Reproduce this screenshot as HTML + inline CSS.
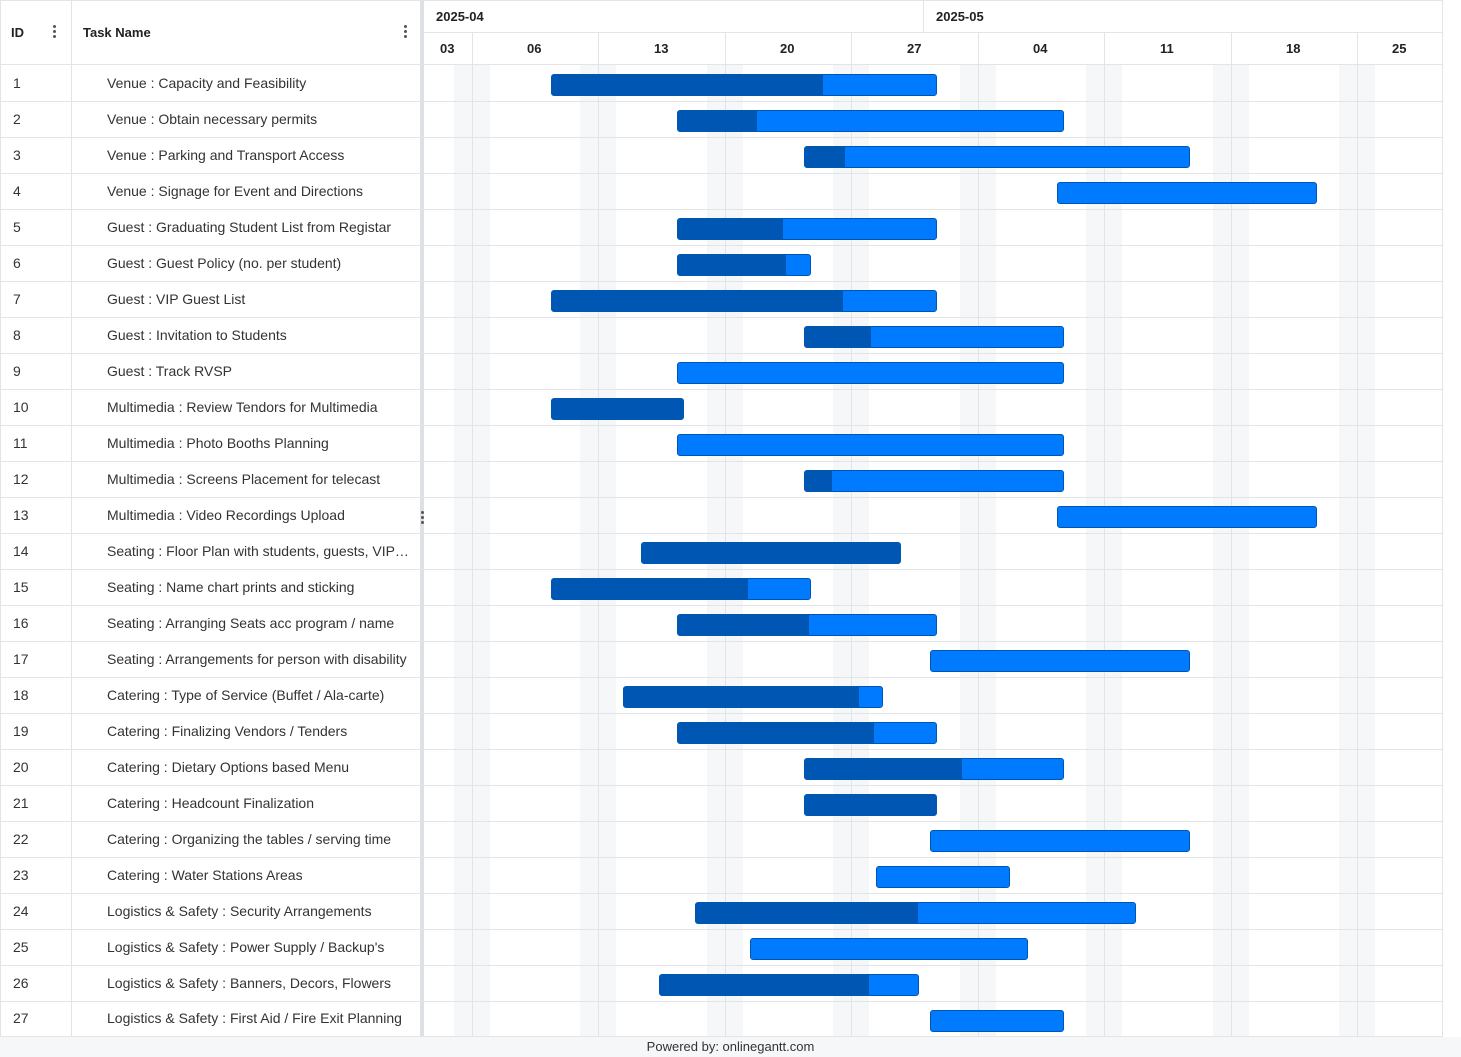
<!DOCTYPE html>
<html><head><meta charset="utf-8"><style>
*{box-sizing:border-box;margin:0;padding:0}
body{width:1461px;height:1057px;position:relative;background:#fff;font-family:"Liberation Sans",Arial,sans-serif;color:#333;overflow:hidden}
.a{position:absolute}
.hl{position:absolute;left:0;width:1442px;height:1px;background:#e2e4e8}
.vl{position:absolute;width:1px;background:#e2e4e8}
.band{position:absolute;top:65px;height:972px;width:36px;background:#f6f7f9}
.id{position:absolute;left:13px;font-size:14px;line-height:36px}
.tn{position:absolute;left:107px;font-size:14px;line-height:36px;white-space:nowrap}
.hd{position:absolute;font-size:13px;font-weight:bold;color:#222}
.bar{position:absolute;height:22px;background:#007bff;border:1px solid #0057b3;border-radius:3px;overflow:hidden}
.bar i{position:absolute;left:0;top:0;bottom:0;background:#0057b3}
.dots{position:absolute;width:3px}
.dots b{display:block;width:3px;height:3px;border-radius:50%;background:#555;margin-bottom:2px}
</style></head><body>
<!-- weekend bands -->
<div class="band" style="left:454px"></div>
<div class="band" style="left:580px"></div>
<div class="band" style="left:707px"></div>
<div class="band" style="left:833px"></div>
<div class="band" style="left:960px"></div>
<div class="band" style="left:1086px"></div>
<div class="band" style="left:1213px"></div>
<div class="band" style="left:1339px"></div>
<!-- vertical lines -->
<div class="vl" style="left:0;top:0;height:1037px"></div>
<div class="vl" style="left:71px;top:0;height:1037px"></div>
<div class="vl" style="left:923px;top:0;height:32px"></div>
<div class="vl" style="left:472px;top:32px;height:1005px"></div>
<div class="vl" style="left:598px;top:32px;height:1005px"></div>
<div class="vl" style="left:725px;top:32px;height:1005px"></div>
<div class="vl" style="left:851px;top:32px;height:1005px"></div>
<div class="vl" style="left:978px;top:32px;height:1005px"></div>
<div class="vl" style="left:1104px;top:32px;height:1005px"></div>
<div class="vl" style="left:1231px;top:32px;height:1005px"></div>
<div class="vl" style="left:1357px;top:32px;height:1005px"></div>
<div class="vl" style="left:1442px;top:0;height:1037px"></div>
<div class="a" style="left:420px;top:0;width:4px;height:1037px;background:#dde0e5"></div>
<div class="dots" style="left:421px;top:511px"><b></b><b></b><b></b></div>
<!-- horizontal lines -->
<div class="hl" style="top:0"></div>
<div class="hl" style="top:32px;left:424px;width:1018px"></div>
<div class="hl" style="top:64px"></div>
<div class="hl" style="top:101px"></div><div class="hl" style="top:137px"></div><div class="hl" style="top:173px"></div><div class="hl" style="top:209px"></div><div class="hl" style="top:245px"></div><div class="hl" style="top:281px"></div><div class="hl" style="top:317px"></div><div class="hl" style="top:353px"></div><div class="hl" style="top:389px"></div><div class="hl" style="top:425px"></div><div class="hl" style="top:461px"></div><div class="hl" style="top:497px"></div><div class="hl" style="top:533px"></div><div class="hl" style="top:569px"></div><div class="hl" style="top:605px"></div><div class="hl" style="top:641px"></div><div class="hl" style="top:677px"></div><div class="hl" style="top:713px"></div><div class="hl" style="top:749px"></div><div class="hl" style="top:785px"></div><div class="hl" style="top:821px"></div><div class="hl" style="top:857px"></div><div class="hl" style="top:893px"></div><div class="hl" style="top:929px"></div><div class="hl" style="top:965px"></div><div class="hl" style="top:1001px"></div><div class="hl" style="top:1036px"></div>
<!-- headers -->
<div class="hd" style="left:11px;top:25px">ID</div>
<div class="dots" style="left:53px;top:25px"><b></b><b></b><b></b></div>
<div class="hd" style="left:83px;top:25px">Task Name</div>
<div class="dots" style="left:404px;top:25px"><b></b><b></b><b></b></div>
<div class="hd" style="left:436px;top:9px">2025-04</div>
<div class="hd" style="left:936px;top:9px">2025-05</div>
<div class="hd" style="left:440px;top:41px">03</div>
<div class="hd" style="left:527px;top:41px">06</div>
<div class="hd" style="left:654px;top:41px">13</div>
<div class="hd" style="left:780px;top:41px">20</div>
<div class="hd" style="left:907px;top:41px">27</div>
<div class="hd" style="left:1033px;top:41px">04</div>
<div class="hd" style="left:1160px;top:41px">11</div>
<div class="hd" style="left:1286px;top:41px">18</div>
<div class="hd" style="left:1392px;top:41px">25</div>
<!-- rows -->
<div class="id" style="top:65px">1</div><div class="tn" style="top:65px">Venue : Capacity and Feasibility</div>
<div class="id" style="top:101px">2</div><div class="tn" style="top:101px">Venue : Obtain necessary permits</div>
<div class="id" style="top:137px">3</div><div class="tn" style="top:137px">Venue : Parking and Transport Access</div>
<div class="id" style="top:173px">4</div><div class="tn" style="top:173px">Venue : Signage for Event and Directions</div>
<div class="id" style="top:209px">5</div><div class="tn" style="top:209px">Guest : Graduating Student List from Registar</div>
<div class="id" style="top:245px">6</div><div class="tn" style="top:245px">Guest : Guest Policy (no. per student)</div>
<div class="id" style="top:281px">7</div><div class="tn" style="top:281px">Guest : VIP Guest List</div>
<div class="id" style="top:317px">8</div><div class="tn" style="top:317px">Guest : Invitation to Students</div>
<div class="id" style="top:353px">9</div><div class="tn" style="top:353px">Guest : Track RVSP</div>
<div class="id" style="top:389px">10</div><div class="tn" style="top:389px">Multimedia : Review Tendors for Multimedia</div>
<div class="id" style="top:425px">11</div><div class="tn" style="top:425px">Multimedia : Photo Booths Planning</div>
<div class="id" style="top:461px">12</div><div class="tn" style="top:461px">Multimedia : Screens Placement for telecast</div>
<div class="id" style="top:497px">13</div><div class="tn" style="top:497px">Multimedia : Video Recordings Upload</div>
<div class="id" style="top:533px">14</div><div class="tn" style="top:533px">Seating : Floor Plan with students, guests, VIP…</div>
<div class="id" style="top:569px">15</div><div class="tn" style="top:569px">Seating : Name chart prints and sticking</div>
<div class="id" style="top:605px">16</div><div class="tn" style="top:605px">Seating : Arranging Seats acc program / name</div>
<div class="id" style="top:641px">17</div><div class="tn" style="top:641px">Seating : Arrangements for person with disability</div>
<div class="id" style="top:677px">18</div><div class="tn" style="top:677px">Catering : Type of Service (Buffet / Ala-carte)</div>
<div class="id" style="top:713px">19</div><div class="tn" style="top:713px">Catering : Finalizing Vendors / Tenders</div>
<div class="id" style="top:749px">20</div><div class="tn" style="top:749px">Catering : Dietary Options based Menu</div>
<div class="id" style="top:785px">21</div><div class="tn" style="top:785px">Catering : Headcount Finalization</div>
<div class="id" style="top:821px">22</div><div class="tn" style="top:821px">Catering : Organizing the tables / serving time</div>
<div class="id" style="top:857px">23</div><div class="tn" style="top:857px">Catering : Water Stations Areas</div>
<div class="id" style="top:893px">24</div><div class="tn" style="top:893px">Logistics &amp; Safety : Security Arrangements</div>
<div class="id" style="top:929px">25</div><div class="tn" style="top:929px">Logistics &amp; Safety : Power Supply / Backup's</div>
<div class="id" style="top:965px">26</div><div class="tn" style="top:965px">Logistics &amp; Safety : Banners, Decors, Flowers</div>
<div class="id" style="top:1000px">27</div><div class="tn" style="top:1000px">Logistics &amp; Safety : First Aid / Fire Exit Planning</div>
<!-- bars -->
<div class="bar" style="top:74px;left:551px;width:386px"><i style="width:271px"></i></div>
<div class="bar" style="top:110px;left:677px;width:387px"><i style="width:79px"></i></div>
<div class="bar" style="top:146px;left:804px;width:386px"><i style="width:40px"></i></div>
<div class="bar" style="top:182px;left:1057px;width:260px"></div>
<div class="bar" style="top:218px;left:677px;width:260px"><i style="width:105px"></i></div>
<div class="bar" style="top:254px;left:677px;width:134px"><i style="width:108px"></i></div>
<div class="bar" style="top:290px;left:551px;width:386px"><i style="width:291px"></i></div>
<div class="bar" style="top:326px;left:804px;width:260px"><i style="width:66px"></i></div>
<div class="bar" style="top:362px;left:677px;width:387px"></div>
<div class="bar" style="top:398px;left:551px;width:133px"><i style="width:133px"></i></div>
<div class="bar" style="top:434px;left:677px;width:387px"></div>
<div class="bar" style="top:470px;left:804px;width:260px"><i style="width:27px"></i></div>
<div class="bar" style="top:506px;left:1057px;width:260px"></div>
<div class="bar" style="top:542px;left:641px;width:260px"><i style="width:260px"></i></div>
<div class="bar" style="top:578px;left:551px;width:260px"><i style="width:196px"></i></div>
<div class="bar" style="top:614px;left:677px;width:260px"><i style="width:131px"></i></div>
<div class="bar" style="top:650px;left:930px;width:260px"></div>
<div class="bar" style="top:686px;left:623px;width:260px"><i style="width:235px"></i></div>
<div class="bar" style="top:722px;left:677px;width:260px"><i style="width:196px"></i></div>
<div class="bar" style="top:758px;left:804px;width:260px"><i style="width:157px"></i></div>
<div class="bar" style="top:794px;left:804px;width:133px"><i style="width:133px"></i></div>
<div class="bar" style="top:830px;left:930px;width:260px"></div>
<div class="bar" style="top:866px;left:876px;width:134px"></div>
<div class="bar" style="top:902px;left:695px;width:441px"><i style="width:222px"></i></div>
<div class="bar" style="top:938px;left:750px;width:278px"></div>
<div class="bar" style="top:974px;left:659px;width:260px"><i style="width:209px"></i></div>
<div class="bar" style="top:1010px;left:930px;width:134px"></div>
<!-- footer -->
<div class="a" style="left:0;top:1037px;width:1461px;height:20px;background:#f6f7f9;font-size:13px;text-align:center;line-height:20px;color:#333">Powered by: onlinegantt.com</div>
</body></html>
